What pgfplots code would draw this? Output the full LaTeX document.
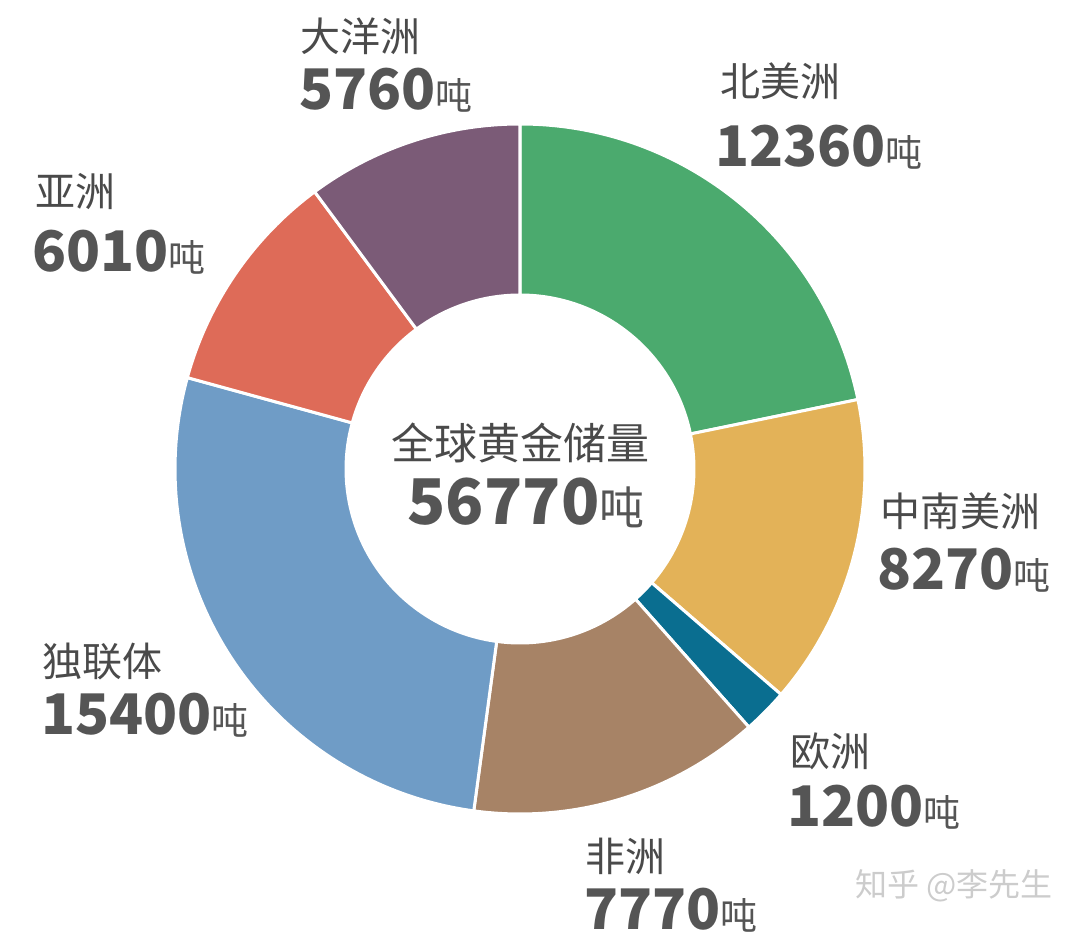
\documentclass[border=0pt]{standalone}
\usepackage{pgfplots}
\pgfplotsset{compat=1.18}
\usepackage{pgfplotstable}
\usepackage{fontspec}
\setmainfont{Noto Sans CJK SC}
\definecolor{cNA}{HTML}{4BAA6E}
\definecolor{cSA}{HTML}{E3B258}
\definecolor{cEU}{HTML}{0A6E90}
\definecolor{cAF}{HTML}{A78366}
\definecolor{cCIS}{HTML}{6F9CC6}
\definecolor{cAS}{HTML}{DE6B58}
\definecolor{cOC}{HTML}{7B5B77}
\definecolor{lab}{HTML}{4A4A4A}
\definecolor{num}{HTML}{555555}
\newcommand{\lbl}[1]{{\fontsize{40}{40}\selectfont\color{lab}#1}}
\newcommand{\num}[1]{{\fontsize{56}{56}\selectfont\bfseries\color{num}#1{\mdseries\fontsize{37}{37}\selectfont 吨}}}
\begin{document}
\begin{tikzpicture}
\begin{axis}[width=1080pt,height=935pt,scale only axis,
  xmin=0,xmax=1080,ymin=0,ymax=935,hide axis,clip=false]
\addplot[draw=none] coordinates {(0,0) (1080,935)};
\pgfplotsextra{
  \gdef\cum{0}
  % values in tonnes; total 56770 t
  \foreach \v/\c in {12360/cNA,8270/cSA,1200/cEU,7770/cAF,15400/cCIS,6010/cAS,5760/cOC}{
    \pgfmathsetmacro\d{\v/5677*36}
    \pgfmathsetmacro\a{90-\cum}
    \pgfmathsetmacro\b{90-\cum-\d}
    \fill[\c,draw=white,line width=3pt] (axis cs:520,466) ++(\a:345)
      arc[start angle=\a,end angle=\b,radius=345] -- ++(\b:-171)
      arc[start angle=\b,end angle=\a,radius=174] -- cycle;
    \pgfmathsetmacro\nc{\cum+\d}
    \global\let\cum\nc
  }
}
% labels
\node[anchor=base west,inner sep=0] at (axis cs:300,{935-52}) {\lbl{大洋洲}};
\node[anchor=base west,inner sep=0] at (axis cs:299,{935-110}) {\num{5760}};
\node[anchor=base west,inner sep=0] at (axis cs:720,{935-97}) {\lbl{北美洲}};
\node[anchor=base west,inner sep=0] at (axis cs:715,{935-167}) {\num{12360}};
\node[anchor=base west,inner sep=0] at (axis cs:35,{935-207}) {\lbl{亚洲}};
\node[anchor=base west,inner sep=0] at (axis cs:32,{935-272}) {\num{6010}};
\node[anchor=base west,inner sep=0] at (axis cs:880,{935-527}) {\lbl{中南美洲}};
\node[anchor=base west,inner sep=0] at (axis cs:877,{935-590}) {\num{8270}};
\node[anchor=base west,inner sep=0] at (axis cs:42,{935-677}) {\lbl{独联体}};
\node[anchor=base west,inner sep=0] at (axis cs:41,{935-735}) {\num{15400}};
\node[anchor=base west,inner sep=0] at (axis cs:790,{935-767}) {\lbl{欧洲}};
\node[anchor=base west,inner sep=0] at (axis cs:787,{935-827}) {\num{1200}};
\node[anchor=base west,inner sep=0] at (axis cs:585,{935-872}) {\lbl{非洲}};
\node[anchor=base west,inner sep=0] at (axis cs:584,{935-930}) {\num{7770}};
% center
\node[anchor=base,inner sep=0] at (axis cs:520,{935-460}) {{\fontsize{43}{43}\selectfont\color{lab}全球黄金储量}};
\node[anchor=base,inner sep=0] at (axis cs:526,{935-525}) {{\fontsize{63}{63}\selectfont\bfseries\color{num}56770{\mdseries\fontsize{45}{45}\selectfont 吨}}};
% watermark
\node[anchor=base west,inner sep=0] at (axis cs:855,{935-897}) {{\fontsize{32}{32}\selectfont\color{black!20}知乎 @李先生}};
\end{axis}
\end{tikzpicture}
\end{document}
